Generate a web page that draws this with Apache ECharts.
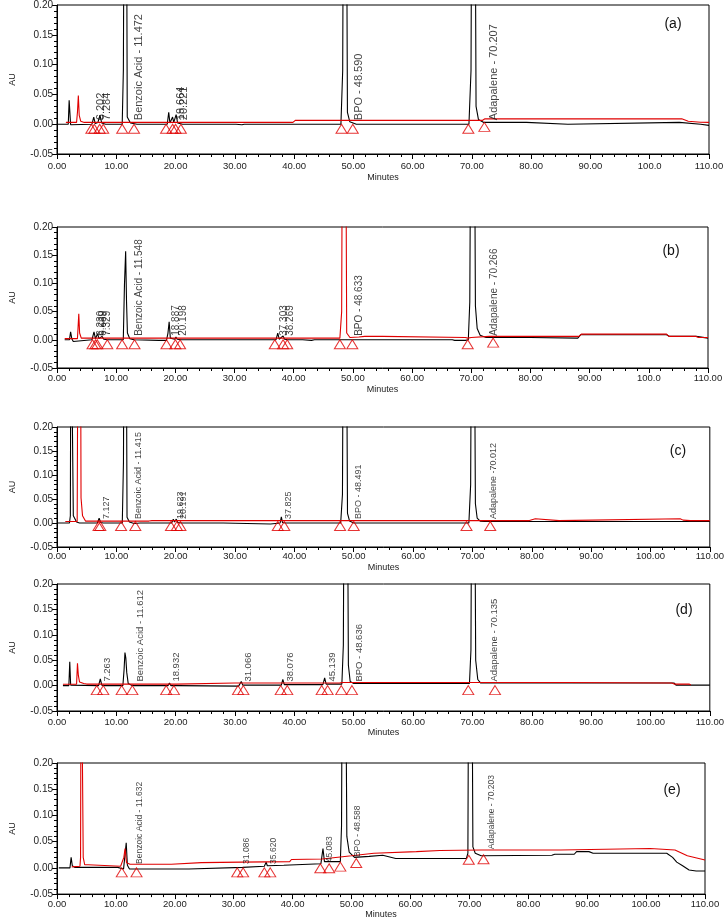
<!DOCTYPE html>
<html><head><meta charset="utf-8">
<script src="https://cdn.jsdelivr.net/npm/echarts@6/dist/echarts.min.js"></script>
<style>html,body{margin:0;padding:0;background:#fff}#c{width:727px;height:920px}</style>
</head><body><div id="c"></div>
<script>
// ---------- data (minutes, AU) ----------
const panelNames = ['(a)', '(b)', '(c)', '(d)', '(e)'];
const yTicks = [-0.05, 0.00, 0.05, 0.10, 0.15, 0.20];
const xTicks = [0, 10, 20, 30, 40, 50, 60, 70, 80, 90, 100, 110];

const aBlack = [[0,0],[1.9,0],[2.05,0.04],[2.15,0.04],[2.3,-0.001],[2.6,0],
 [5.9,0],[6.2,0.012],[6.45,0.001],[6.9,0.003],[7.25,0.015],[7.55,0.002],[8.2,0],
 [11.0,0],[11.2,0.092],[11.35,0.5],[11.7,0.5],[11.85,0.012],[12.4,0.002],[13.5,0],
 [18.6,0],[18.85,0.02],[19.05,0.002],[19.5,0.012],[19.7,0.003],[20.1,0.016],[20.35,0.002],[21.2,0],
 [30.2,0],[30.5,-0.002],[31.2,-0.001],[31.6,0],
 [47.9,0],[48.2,0.09],[48.35,0.5],[48.8,0.5],[49.0,0.02],[49.4,0.004],[50.5,0],
 [69.5,0],[69.85,0.09],[70.0,0.5],[70.5,0.5],[70.7,0.03],[71.1,0.008],[72.0,0.003],
 [79.2,0.003],[79.4,0],[86.2,0],[86.4,0.003],[105,0.003],[105.2,0],[108.6,0],[108.8,-0.002],[110,-0.002]];
const aRed = [[1.5,0.003],[3.3,0.003],[3.45,0.02],[3.6,0.048],[3.75,0.015],[4.0,0.005],[4.6,0.003],
 [39.8,0.003],[40.2,0.0065],[71.8,0.0065],[72.2,0.009],[105.4,0.009],[106.5,0.005],[108.6,0.0033],[110,0.003]];
const aMarks = [[5.8,0],[6.3,0],[7.2,0],[7.8,0],[11.0,0],[13.0,0],[18.4,0],[19.5,0],[20.0,0],[20.9,0],
 [48.0,0],[49.9,0],[69.4,0],[72.1,0.003]];
const aLabels = [[6.2,0,'6.202'],[7.28,0,'7.284'],[11.47,0,'Benzoic Acid - 11.472'],[19.66,0,'19.664'],
 [20.22,0,'20.221'],[48.59,0,'BPO - 48.590'],[70.21,0,'Adapalene - 70.207']];

const bBlack = [[1.3,0],[2.1,0],[2.3,0.014],[2.5,0.002],[2.75,-0.003],[3.0,0],
 [5.9,0],[6.25,0.014],[6.5,0.002],[6.85,0.011],[7.1,0.002],[7.6,0.006],[7.9,0.001],[8.5,0],
 [11.2,0],[11.4,0.098],[11.6,0.157],[11.75,0.067],[11.9,0.012],[12.3,0.002],[13,0],
 [17.2,-0.001],[18.5,-0.001],[18.75,0.012],[18.95,0.032],[19.15,0.003],[19.9,0.001],[20.1,0.005],[20.3,0.001],[21,0],
 [37.0,0],[37.3,0.012],[37.55,0.001],[38.2,0.007],[38.45,0.001],[39,0],[41.5,0],[41.8,-0.002],[43,-0.001],[43.5,0],
 [66.8,0],[67.2,-0.001],[69,-0.001],[69.5,0],[69.75,0.067],[69.95,0.5],[70.5,0.5],[70.7,0.06],[71.0,0.02],
 [71.5,0.008],[72.5,0.004],[80,0.004],[80.2,0.003],[88,0.003],[88.5,0.009],[103,0.009],[103.5,0.006],
 [108,0.006],[108.3,0.003],[110,0.003]];
const bRed = [[1.3,0.002],[3.45,0.002],[3.55,0.02],[3.68,0.046],[3.82,0.012],[4.1,0.003],[47.8,0.003],
 [48.1,0.05],[48.25,0.5],[48.75,0.5],[48.95,0.012],[49.5,0.004],[51,0.005],[52,0.006],[55,0.006],[55.3,0.004],
 [69,0.004],[69.4,0.003],[70,0.004],[73,0.006],[88.2,0.006],[88.6,0.01],[103,0.01],[103.4,0.006],[108,0.006],
 [108.4,0.004],[110,0.004]];
const bMarks = [[6.0,0],[6.5,0],[6.8,0],[8.5,0],[11.0,0],[13.1,0],[18.5,0],[20.0,0],[20.8,0],[36.8,0],
 [38.2,0],[38.9,0],[47.8,0],[49.9,0],[69.4,0],[73.7,0.003]];
const bLabels = [[6.23,0,'6.230'],[6.69,0,'6.689'],[7.33,0,'7.329'],[11.55,0,'Benzoic Acid - 11.548'],
 [18.89,0,'18.887'],[20.2,0,'20.198'],[37.3,0,'37.303'],[38.27,0,'38.269'],[48.63,0,'BPO - 48.633'],
 [70.27,0,'Adapalene - 70.266']];

const cBlack = [[0,0],[2.1,0],[2.25,0.015],[2.35,0.5],[2.65,0.5],[2.75,0.015],[3.0,0.012],[3.3,0.002],[3.8,0],
 [6.8,0],[7.1,0.01],[7.35,0.001],[7.8,0],
 [11.0,0],[11.2,0.127],[11.3,0.5],[11.65,0.5],[11.8,0.012],[12.2,0.002],[13.0,-0.001],[14,0],
 [19.3,0],[19.6,0.008],[19.8,0.002],[20.1,0.008],[20.35,0.001],[21,0],
 [28,0],[28.2,-0.002],[36,-0.002],[36.3,0],[37.6,0],[37.8,0.013],[38.0,0.001],[38.5,0],
 [47.8,0],[48.1,0.06],[48.25,0.5],[48.75,0.5],[48.95,0.02],[49.3,0.004],[50,0],
 [69.4,0],[69.7,0.08],[69.85,0.5],[70.3,0.5],[70.5,0.04],[70.8,0.01],[71.3,0.004],[72,0.003],[110,0.003]];
const cRed = [[1.4,0.003],[3.4,0.003],[3.55,0.5],[3.95,0.5],[4.05,0.052],[4.3,0.015],[4.8,0.004],[15.5,0.004],
 [16,0.005],[79.6,0.005],[79.9,0.009],[80.6,0.009],[80.9,0.005],[84.6,0.005],[84.9,0.009],[105,0.009],
 [105.5,0.006],[106.7,0.005],[110,0.005]];
const cMarks = [[7.0,0.003],[7.3,0.003],[10.8,0.003],[13.2,0.003],[19.2,0.003],[20.2,0.003],[20.8,0.003],
 [37.2,0.003],[38.3,0.003],[47.7,0.003],[50.0,0.003],[69.0,0.003],[73.0,0.003]];
const cLabels = [[7.13,0,'7.127'],[11.42,0,'Benzoic Acid - 11.415'],[19.62,0,'19.623'],[20.19,0,'20.191'],
 [37.83,0,'37.825'],[48.49,0,'BPO - 48.491'],[70.01,0,'Adapalene -70.012']];

const dBlack = [[1.0,0],[2.0,0],[2.15,0.047],[2.3,0.001],[2.6,0],
 [7.0,0],[7.3,0.013],[7.55,0.001],[8.0,0],
 [11.1,0],[11.3,0.031],[11.45,0.065],[11.6,0.054],[11.75,0.026],[12.0,0.004],[12.5,0.001],[13,0],
 [18.7,0],[18.95,0.005],[19.2,0],[20.3,0],[20.5,-0.001],[30.6,-0.001],[30.8,0],[31.05,0.008],[31.3,0.001],
 [37.8,0.001],[38.05,0.012],[38.3,0.002],[44.8,0.002],[45.1,0.015],[45.35,0.003],[48.0,0.003],
 [48.25,0.08],[48.4,0.5],[48.9,0.5],[49.1,0.04],[49.4,0.008],[50,0.004],
 [69.5,0.004],[69.75,0.07],[69.9,0.5],[70.35,0.5],[70.55,0.05],[70.9,0.012],[71.4,0.005],[104,0.005],
 [104.3,0.001],[110,0.001]];
const dRed = [[1.0,0.0026],[3.3,0.003],[3.45,0.044],[3.6,0.02],[3.8,0.007],[4.5,0.004],[5.0,0.003],[20.1,0.003],
 [20.3,0.006],[30,0.005],[47.6,0.005],[48.0,0.006],[72,0.006],[86,0.006],[86.3,0.005],[103.6,0.005],
 [104,0.003],[106.5,0.003],[106.8,0.001]];
const dMarks = [[6.7,0],[7.8,0],[10.9,0],[12.7,0],[18.4,0],[19.7,0],[30.5,0],[31.4,0],[37.7,0],[38.8,0],
 [44.6,0],[45.6,0],[47.9,0],[49.7,0],[69.3,0],[73.8,0]];
const dLabels = [[7.26,0,'7.263'],[11.61,0,'Benzoic Acid - 11.612'],[18.93,0,'18.932'],[31.07,0,'31.066'],
 [38.08,0,'38.076'],[45.14,0,'45.139'],[48.64,0,'BPO - 48.636'],[70.14,0,'Adapalene - 70.135']];

const eBlack = [[0.3,0],[2.2,0],[2.4,0.02],[2.6,0.004],[3.0,0.001],[10.3,0.001],[10.6,-0.002],[11.3,-0.002],
 [11.5,0.02],[11.75,0.048],[11.95,0.005],[12.3,-0.002],[22.4,-0.002],[22.6,0],[31.5,0.001],
 [35.2,0.003],[35.5,0.011],[35.7,0.004],[38.5,0.005],[44.8,0.008],[45.15,0.037],[45.4,0.012],[48.1,0.012],
 [48.3,0.08],[48.45,0.5],[48.95,0.5],[49.2,0.06],[49.6,0.03],[50.5,0.02],[53,0.022],[55.3,0.024],[57.5,0.018],
 [69.5,0.018],[69.75,0.028],[69.9,0.5],[70.4,0.5],[70.6,0.04],[71.0,0.028],[72,0.023],[84,0.024],[84.5,0.026],
 [87.8,0.026],[88.2,0.031],[90.3,0.031],[91,0.028],[103.5,0.028],[104.5,0.02],[105.2,0.011],[106.2,0.004],
 [107.3,-0.004],[108.5,-0.006],[110,-0.006]];
const eRed = [[2.5,0.002],[3.9,0.003],[4.0,0.02],[4.1,0.5],[4.35,0.5],[4.45,0.02],[4.7,0.006],[5.3,0.006],
 [5.6,0.003],[10.8,0.003],[11.35,0.02],[11.55,0.037],[11.8,0.01],[12.4,0.007],[19.4,0.007],[19.6,0.01],
 [24.5,0.01],[24.7,0.012],[31.3,0.011],[39.5,0.012],[39.8,0.016],[45,0.017],[45.2,0.02],[50,0.023],
 [53.8,0.028],[61,0.031],[65,0.033],[72,0.034],[85.5,0.034],[85.8,0.037],[100.7,0.037],[101,0.034],
 [104.9,0.034],[107,0.023],[110,0.015]];
const eMarks = [[11.0,0],[13.5,0],[30.6,0],[31.6,0],[35.2,0],[36.2,0],[44.7,0.008],[46.2,0.008],[48.1,0.011],
 [50.8,0.018],[69.9,0.024],[72.4,0.025]];
const eLabels = [[11.63,0,'Benzoic Acid - 11.632'],[31.09,0,'31.086'],[35.62,0,'35.620'],[45.08,0.003,'45.083'],
 [48.59,0.013,'BPO - 48.588'],[70.2,0.028,'Adapalene - 70.203']];

// ---------- layout / style ----------
const blacks = [aBlack, bBlack, cBlack, dBlack, eBlack];
const reds = [aRed, bRed, cRed, dRed, eRed];
const marks = [aMarks, bMarks, cMarks, dMarks, eMarks];
const labels = [aLabels, bLabels, cLabels, dLabels, eLabels];
const gridBoxes = [
  {left: 50, top: 4, width: 659, height: 150},
  {left: 47, top: 227, width: 661, height: 141},
  {left: 50, top: 427, width: 660, height: 120},
  {left: 52, top: 584, width: 659, height: 127},
  {left: 55, top: 763, width: 650, height: 135}
];
const peakFont = [11, 10, 9, 9.5, 8.5];
const nameCenters = [[673, 24], [671, 251], [678, 451], [684, 610], [672, 790]];
const xLabelMargin = [7, 5, 4, 6, 5];
const xNameGap = [19, 17, 16, 17, 14];
const RED = '#e00000';
const FONT = '"Liberation Sans", Arial, sans-serif';

const grid = [], xAxis = [], yAxis = [], series = [], graphic = [];
gridBoxes.forEach((g, i) => {
  grid.push(Object.assign({show: true, borderColor: '#000', borderWidth: 1, backgroundColor: '#fff'}, g));
  xAxis.push({
    gridIndex: i, type: 'value', min: xTicks[0], max: xTicks[xTicks.length - 1], interval: 10,
    axisLine: {show: true, onZero: false, lineStyle: {color: '#000', width: 1}},
    axisTick: {show: true, length: 5, lineStyle: {color: '#000'}},
    minorTick: {show: true, splitNumber: 5, length: 3, lineStyle: {color: '#000'}},
    splitLine: {show: false},
    axisLabel: {fontSize: 9.5, color: '#222', fontFamily: FONT, margin: xLabelMargin[i],
      formatter: v => (i < 2 && v === 100) ? '100.0' : v.toFixed(2)},
    name: 'Minutes', nameLocation: 'middle', nameGap: xNameGap[i],
    nameTextStyle: {fontSize: 9, color: '#222', fontFamily: FONT}
  });
  yAxis.push({
    gridIndex: i, type: 'value', min: yTicks[0], max: yTicks[yTicks.length - 1], interval: 0.05,
    axisLine: {show: true, lineStyle: {color: '#000', width: 1}},
    axisTick: {show: true, length: 5, lineStyle: {color: '#000'}},
    minorTick: {show: true, splitNumber: 5, length: 3, lineStyle: {color: '#000'}},
    splitLine: {show: false},
    axisLabel: {fontSize: 10, color: '#222', fontFamily: FONT, margin: 4,
      formatter: v => (Math.abs(v) < 1e-9 ? 0 : v).toFixed(2)},
    name: 'AU', nameLocation: 'middle', nameGap: 40, nameRotate: 90,
    nameTextStyle: {fontSize: 9, color: '#222', fontFamily: FONT}
  });
  series.push({
    type: 'line', xAxisIndex: i, yAxisIndex: i, data: blacks[i], symbol: 'none', clip: true,
    lineStyle: {color: '#000', width: 1.1}, animation: false, silent: true, z: 2
  });
  series.push({
    type: 'line', xAxisIndex: i, yAxisIndex: i, data: reds[i], symbol: 'none', clip: true,
    lineStyle: {color: RED, width: 1.1}, animation: false, silent: true, z: 3
  });
  series.push({
    type: 'scatter', xAxisIndex: i, yAxisIndex: i, data: marks[i], symbol: 'triangle',
    symbolSize: [11, 9], symbolOffset: [0, 4.5], animation: false, silent: true, z: 4,
    itemStyle: {color: 'rgba(255,255,255,0)', borderColor: RED, borderWidth: 1}
  });
  series.push({
    type: 'scatter', xAxisIndex: i, yAxisIndex: i, symbolSize: 1, animation: false, silent: true, z: 5,
    itemStyle: {color: 'rgba(0,0,0,0)'},
    data: labels[i].map(l => {
      const dx = l[2].indexOf('Adapalene') === 0 ? 21 : (l[2].length > 8 ? 14 : 7);
      return {value: [l[0], l[1]], name: l[2],
        label: {offset: [4, dx]}};
    }),
    label: {show: true, formatter: p => p.name, rotate: 90, position: 'inside', align: 'left',
      verticalAlign: 'middle', fontSize: peakFont[i], color: '#111', fontFamily: FONT}
  });
  graphic.push({type: 'text', x: nameCenters[i][0], y: nameCenters[i][1], z: 100,
    style: {text: panelNames[i], fontSize: 14, fontFamily: FONT, fill: '#111', align: 'center', verticalAlign: 'middle'}});
});

const chart = echarts.init(document.getElementById('c'), null, {renderer: 'canvas'});
chart.setOption({animation: false, backgroundColor: '#fff', grid, xAxis, yAxis, series, graphic});
</script></body></html>
